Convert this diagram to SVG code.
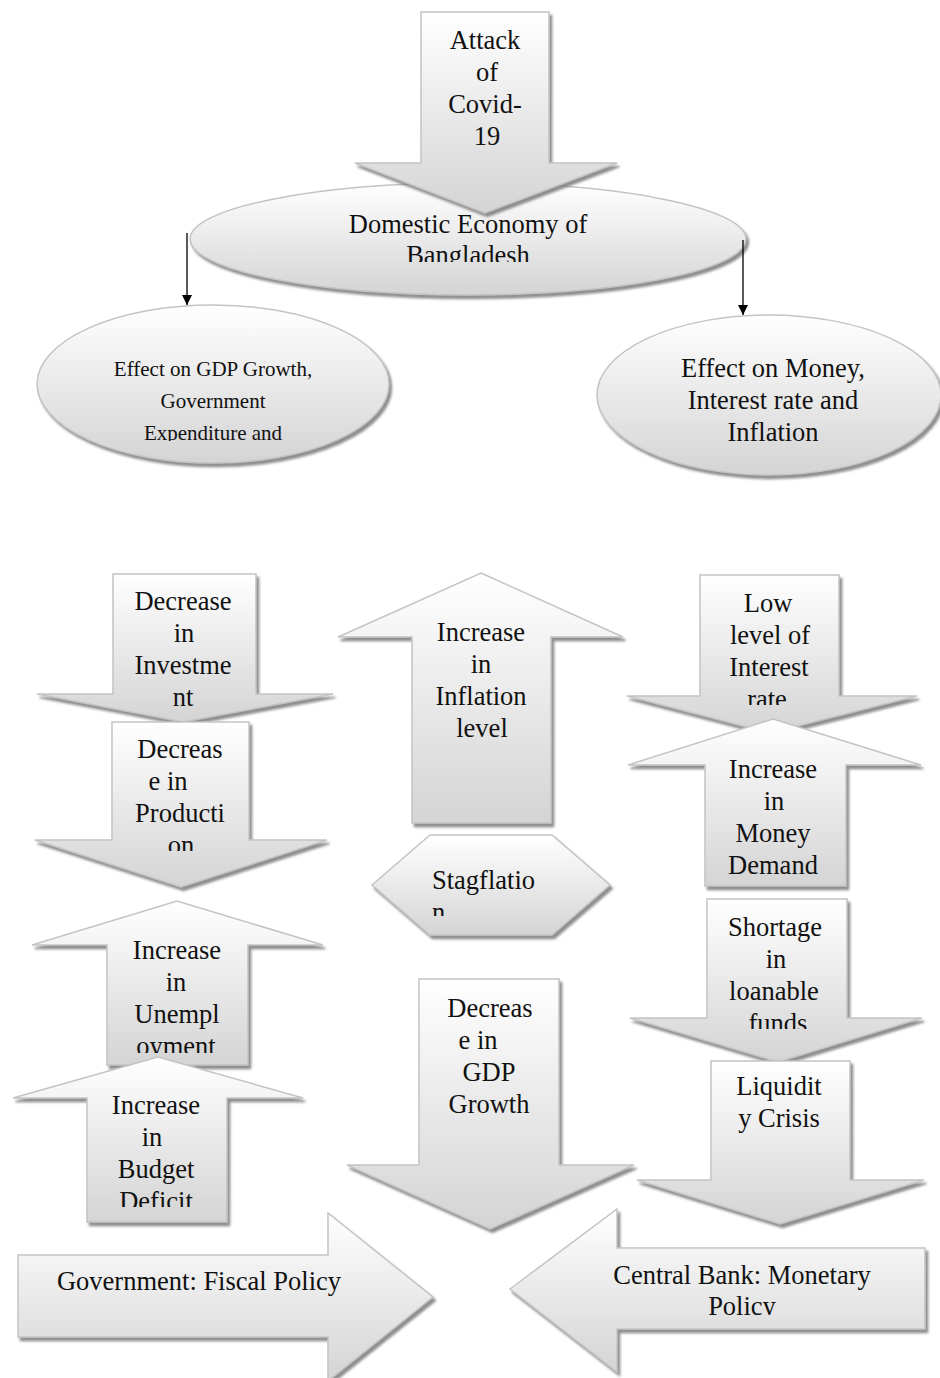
<svg xmlns="http://www.w3.org/2000/svg" width="940" height="1378" viewBox="0 0 940 1378">
<style>
.s{fill:url(#g);stroke:#c4c4c4;stroke-width:1.5;filter:url(#sh)}
.t{font-family:"Liberation Serif","Times New Roman",serif;font-size:26.5px;fill:#111;text-anchor:middle}
.sm{font-size:21px}
.ln{stroke:#000;stroke-width:1.3;fill:none}
</style>
<defs>
<linearGradient id="g" x1="0" y1="0" x2="0" y2="1">
<stop offset="0" stop-color="#ffffff"/>
<stop offset="1" stop-color="#d4d4d4"/>
</linearGradient>
<filter id="sh" x="-10%" y="-10%" width="125%" height="125%">
<feDropShadow dx="2.5" dy="3.5" stdDeviation="0.8" flood-color="#7a7a7a" flood-opacity="0.85"/>
</filter>
<marker id="ah" viewBox="0 0 10 10" refX="10" refY="5" markerWidth="10" markerHeight="10" markerUnits="userSpaceOnUse" orient="auto">
<path d="M0,0 L10,5 L0,10 z" fill="#000"/>
</marker>
<clipPath id="cBang"><rect x="0" y="0" width="940" height="262"/></clipPath>
<clipPath id="cLE"><rect x="0" y="0" width="940" height="441"/></clipPath>
<clipPath id="cRE"><rect x="0" y="0" width="940" height="441"/></clipPath>
<clipPath id="cProd"><rect x="0" y="0" width="940" height="851"/></clipPath>
<clipPath id="cRate"><rect x="0" y="0" width="940" height="705"/></clipPath>
<clipPath id="cStag"><rect x="0" y="0" width="940" height="916"/></clipPath>
<clipPath id="cUnem"><rect x="0" y="0" width="940" height="1053"/></clipPath>
<clipPath id="cBud"><rect x="0" y="0" width="940" height="1207"/></clipPath>
<clipPath id="cFund"><rect x="0" y="0" width="940" height="1029"/></clipPath>
<clipPath id="cPol"><rect x="0" y="0" width="940" height="1315"/></clipPath>
</defs>

<g id="domestic-economy">
<ellipse class="s" cx="468" cy="239" rx="278" ry="56"/>
</g>
<g id="attack-covid">
<polygon class="s" points="421,12 549,12 549,163 617,163 485,213 355,163 421,163"/>
<text class="t" x="485" y="49">Attack</text>
<text class="t" x="487" y="81">of</text>
<text class="t" x="485" y="113">Covid-</text>
<text class="t" x="487" y="145">19</text>
</g>
<g id="domestic-economy-text">
<text class="t" x="468" y="233">Domestic Economy of</text>
<text class="t" x="468" y="264" clip-path="url(#cBang)">Bangladesh</text>
</g>

<g id="connectors">
<line class="ln" x1="187" y1="233" x2="187" y2="305" marker-end="url(#ah)"/>
<line class="ln" x1="743" y1="240" x2="743" y2="315" marker-end="url(#ah)"/>
</g>

<g id="effect-gdp">
<ellipse class="s" cx="213" cy="384" rx="176" ry="79"/>
<g clip-path="url(#cLE)">
<text class="t sm" x="213" y="376">Effect on GDP Growth,</text>
<text class="t sm" x="213" y="408">Government</text>
<text class="t sm" x="213" y="440">Expenditure and</text>
</g>
</g>

<g id="effect-money">
<ellipse class="s" cx="769" cy="395" rx="172" ry="80"/>
<g clip-path="url(#cRE)">
<text class="t" x="773" y="377">Effect on Money,</text>
<text class="t" x="773" y="409">Interest rate and</text>
<text class="t" x="773" y="441">Inflation</text>
</g>
</g>

<g id="decrease-investment">
<polygon class="s" points="113,574 256,574 256,694 333,694 183,722 37,694 113,694"/>
<text class="t" x="183" y="610">Decrease</text>
<text class="t" x="184" y="642">in</text>
<text class="t" x="183" y="674">Investme</text>
<text class="t" x="183" y="706">nt</text>
</g>

<g id="decrease-production">
<polygon class="s" points="112,722 249,722 249,840 327,840 181,887 35,840 112,840"/>
<g clip-path="url(#cProd)">
<text class="t" x="180" y="758">Decreas</text>
<text class="t" x="168" y="790">e in</text>
<text class="t" x="180" y="822">Producti</text>
<text class="t" x="181" y="854">on</text>
</g>
</g>

<g id="increase-inflation">
<polygon class="s" points="481,573 623,637 551,637 551,823 412,823 412,637 338,637"/>
<text class="t" x="481" y="641">Increase</text>
<text class="t" x="481" y="673">in</text>
<text class="t" x="481" y="705">Inflation</text>
<text class="t" x="482" y="737">level</text>
</g>

<g id="stagflation">
<polygon class="s" points="430,835 552,835 610,885 552,935 430,935 372,885"/>
<g clip-path="url(#cStag)">
<text class="t" x="432" y="889" style="text-anchor:start">Stagflatio</text>
<text class="t" x="432" y="921" style="text-anchor:start">n</text>
</g>
</g>

<g id="low-interest">
<polygon class="s" points="700,575 839,575 839,696 917,696 770,733 627,696 700,696"/>
<g clip-path="url(#cRate)">
<text class="t" x="768" y="612">Low</text>
<text class="t" x="770" y="644">level of</text>
<text class="t" x="769" y="676">Interest</text>
<text class="t" x="767" y="708">rate</text>
</g>
</g>

<g id="increase-money-demand">
<polygon class="s" points="773,719 921,765 846,765 846,886 705,886 705,765 628,765"/>
<text class="t" x="773" y="778">Increase</text>
<text class="t" x="774" y="810">in</text>
<text class="t" x="773" y="842">Money</text>
<text class="t" x="773" y="874">Demand</text>
</g>

<g id="increase-unemployment">
<polygon class="s" points="177,901 323,945 248,945 248,1065 107,1065 107,945 32,945"/>
<g clip-path="url(#cUnem)">
<text class="t" x="177" y="959">Increase</text>
<text class="t" x="176" y="991">in</text>
<text class="t" x="177" y="1023">Unempl</text>
<text class="t" x="176" y="1055">oyment</text>
</g>
</g>

<g id="increase-budget-deficit">
<polygon class="s" points="158,1057 303,1098 227,1098 227,1222 87,1222 87,1098 13,1098"/>
<g clip-path="url(#cBud)">
<text class="t" x="156" y="1114">Increase</text>
<text class="t" x="152" y="1146">in</text>
<text class="t" x="156" y="1178">Budget</text>
<text class="t" x="156" y="1210">Deficit</text>
</g>
</g>

<g id="decrease-gdp">
<polygon class="s" points="419,979 559,979 559,1165 634,1165 490,1229 347,1165 419,1165"/>
<text class="t" x="490" y="1017">Decreas</text>
<text class="t" x="478" y="1049">e in</text>
<text class="t" x="489" y="1081">GDP</text>
<text class="t" x="489" y="1113">Growth</text>
</g>

<g id="shortage-loanable">
<polygon class="s" points="707,899 847,899 847,1018 922,1018 778,1062 630,1018 707,1018"/>
<g clip-path="url(#cFund)">
<text class="t" x="775" y="936">Shortage</text>
<text class="t" x="776" y="968">in</text>
<text class="t" x="774" y="1000">loanable</text>
<text class="t" x="778" y="1032">funds</text>
</g>
</g>

<g id="liquidity-crisis">
<polygon class="s" points="711,1061 850,1061 850,1180 924,1180 780,1224 637,1180 711,1180"/>
<text class="t" x="779" y="1095">Liquidit</text>
<text class="t" x="779" y="1127">y Crisis</text>
</g>

<g id="fiscal-policy">
<polygon class="s" points="18,1255 328,1255 328,1213 433,1297 328,1381 328,1337 18,1337"/>
<text class="t" x="199" y="1290">Government: Fiscal Policy</text>
</g>

<g id="monetary-policy">
<polygon class="s" points="510,1289 617,1209 617,1248 925,1248 925,1329 617,1329 617,1372"/>
<g clip-path="url(#cPol)">
<text class="t" x="742" y="1284">Central Bank: Monetary</text>
<text class="t" x="742" y="1315">Policy</text>
</g>
</g>
</svg>
